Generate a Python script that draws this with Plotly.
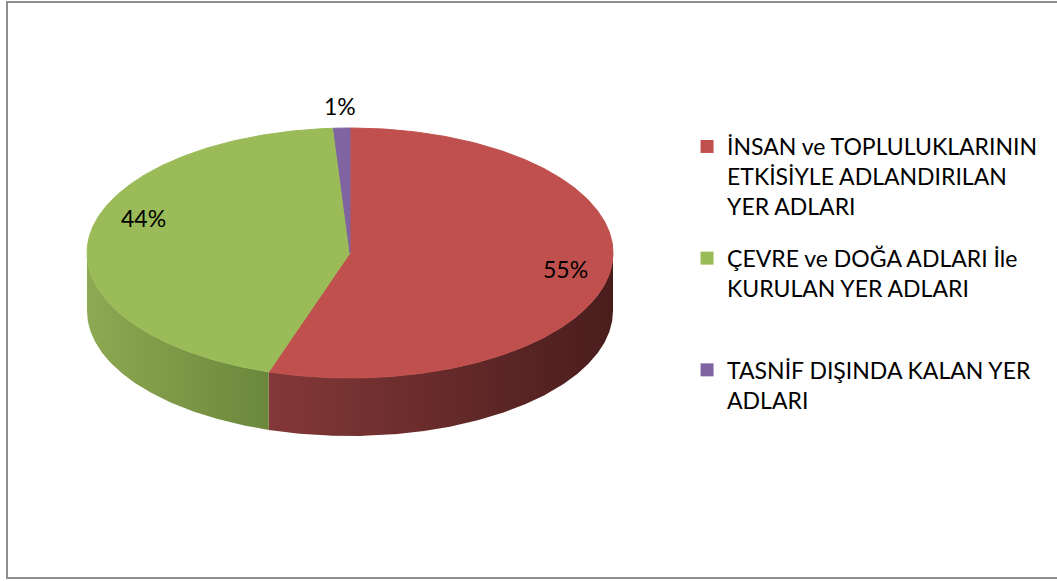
import numpy as np
import plotly.graph_objects as go

# ---------------- data ----------------
categories = [
    "İNSAN ve TOPLULUKLARININ<br>ETKİSİYLE ADLANDIRILAN<br>YER ADLARI",
    "ÇEVRE ve DOĞA ADLARI İle<br>KURULAN YER ADLARI<br>\u00a0",
    "TASNİF DIŞINDA KALAN YER<br>ADLARI<br>\u00a0",
]
values = [55, 44, 1]
labels = ["55%", "44%", "1%"]

# ---------------- style ----------------
top_colors = ["#C0504D", "#9BBB59", "#8064A2"]
side_left = ["#843838", "#8EA953", "#6A5387"]
side_right = ["#4A1D1D", "#6B873B", "#4E3D66"]
label_r = [0.83, 0.83, 1.18]
label_shift = [(0, 0), (10, -22), (0, 0)]
FONT = "Lato"

W, H = 1057, 581
cx, cy, rx, ry, depth = 350, 253, 263, 125, 58

total = float(sum(values))
frac = np.array(values, dtype=float) / total
ends = np.cumsum(frac) * 360.0
starts = ends - frac * 360.0


def arc(a0, a1, yoff=0.0):
    n = max(3, int(abs(a1 - a0) * 2) + 2)
    t = np.radians(np.linspace(a0, a1, n))
    return cx + rx * np.sin(t), cy - ry * np.cos(t) + yoff


fig = go.Figure()

# side (front) faces
for i in range(len(values)):
    a0 = max(starts[i], 90.0)
    a1 = min(ends[i], 270.0)
    if a1 <= a0:
        continue
    xt, yt = arc(a0, a1)
    xb, yb = arc(a1, a0, depth)
    fig.add_trace(go.Scatter(
        x=np.concatenate([xt, xb, xt[:1]]),
        y=np.concatenate([yt, yb, yt[:1]]),
        mode="lines", fill="toself",
        line=dict(width=0, color=side_right[i]),
        fillgradient=dict(type="horizontal",
                          colorscale=[[0, side_left[i]], [1, side_right[i]]]),
        hoverinfo="skip", showlegend=False,
    ))

# top faces
for i in range(len(values)):
    xa, ya = arc(starts[i], ends[i])
    fig.add_trace(go.Scatter(
        x=np.concatenate([[cx], xa, [cx]]),
        y=np.concatenate([[cy], ya, [cy]]),
        mode="lines", fill="toself", fillcolor=top_colors[i],
        line=dict(width=1, color=top_colors[i]),
        hoverinfo="skip", showlegend=False,
    ))

# legend entries
for i in range(len(values)):
    fig.add_trace(go.Scatter(
        x=[None], y=[None], mode="markers",
        marker=dict(symbol="square", size=13, color=top_colors[i]),
        name=categories[i], legendgroup=str(i),
    ))

# data labels
mid = (starts + ends) / 2.0
for i in range(len(values)):
    t = np.radians(mid[i])
    lx = cx + rx * label_r[i] * np.sin(t) + label_shift[i][0]
    ly = cy - ry * label_r[i] * np.cos(t) + label_shift[i][1]
    fig.add_annotation(x=lx, y=ly, text=labels[i], showarrow=False,
                       font=dict(family=FONT, size=23, color="#000000"),
                       xanchor="center", yanchor="middle")

fig.add_shape(type="rect", xref="paper", yref="paper",
              x0=7 / W, x1=1.02, y0=1 - 578 / H, y1=1 - 2 / H,
              line=dict(color="#8E8E8E", width=2), fillcolor="rgba(0,0,0,0)")

fig.update_layout(
    width=W, height=H,
    margin=dict(l=0, r=0, t=0, b=0),
    paper_bgcolor="white", plot_bgcolor="white",
    xaxis=dict(range=[0, W], visible=False, fixedrange=True),
    yaxis=dict(range=[H, 0], visible=False, fixedrange=True),
    legend=dict(x=0.65, y=1 - 125 / H, xanchor="left", yanchor="top",
                font=dict(family=FONT, size=23, color="#000000"),
                valign="top", tracegroupgap=19, bgcolor="rgba(0,0,0,0)"),
    showlegend=True,
)

fig.write_html(
    "out.html",
    config={"displayModeBar": False},
    post_script="document.body.style.margin='0';document.body.style.overflow='hidden';",
)
